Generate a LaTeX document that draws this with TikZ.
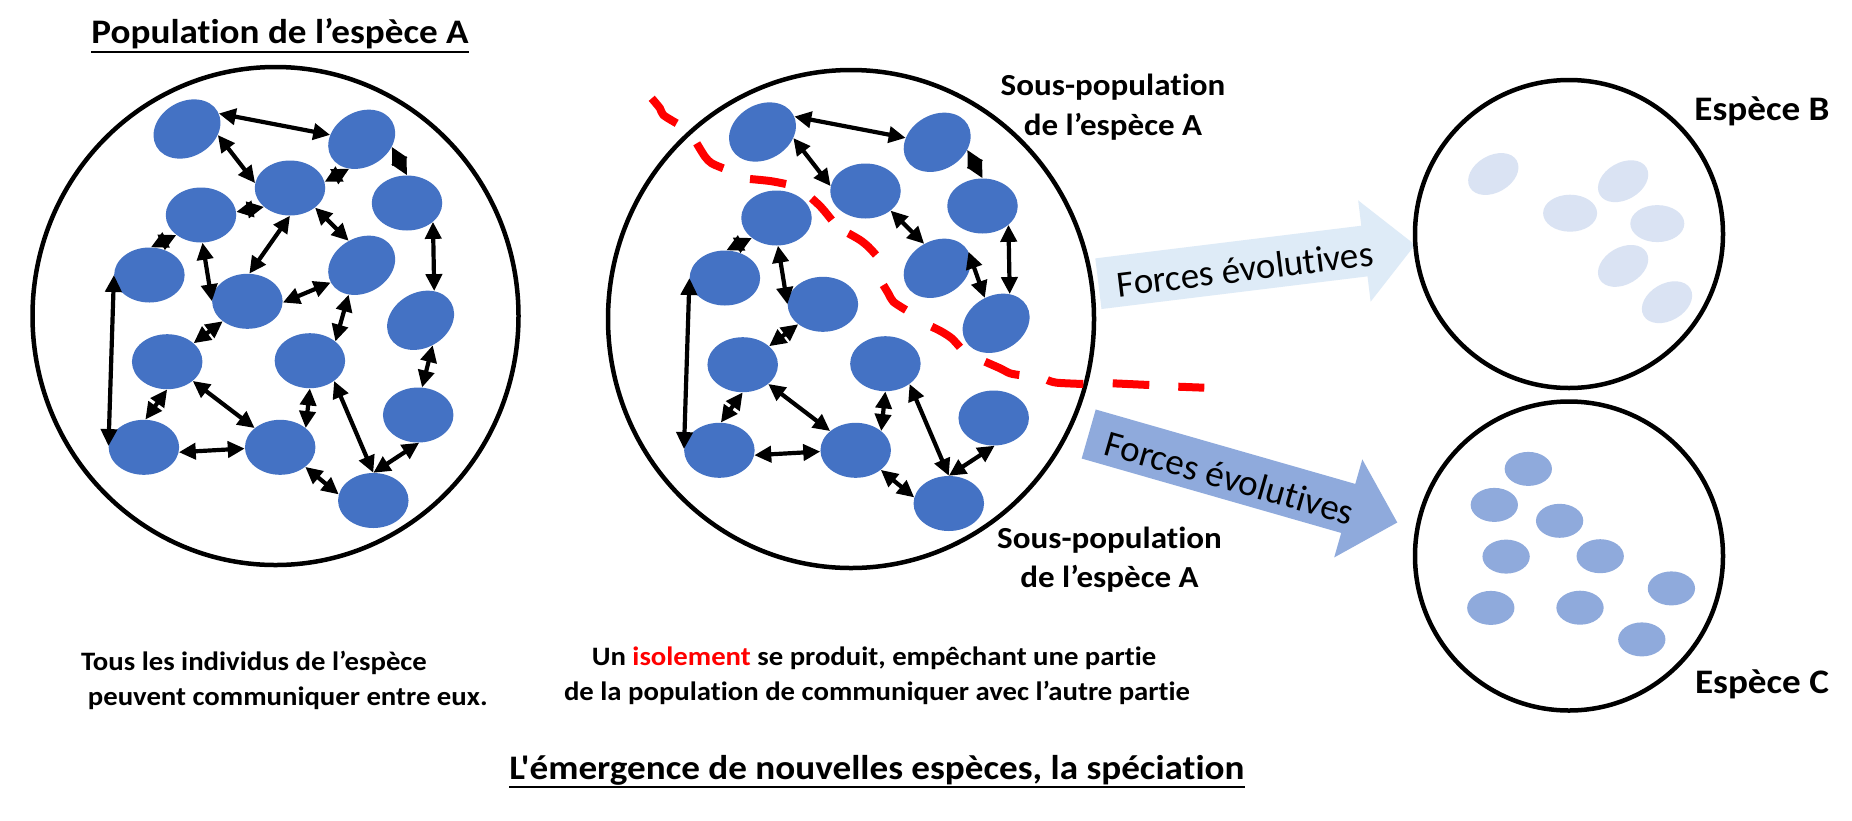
\documentclass[tikz,border=0pt]{standalone}
\usepackage{fontspec}
\setmainfont{Carlito}[Ligatures={TeXOff,CommonOff}, BoldFeatures={FakeStretch=1.08}]
\usetikzlibrary{arrows.meta,shapes.geometric}
\definecolor{blobblue}{HTML}{4472C4}
\definecolor{lightdot}{HTML}{DAE3F3}
\definecolor{arrowlight}{HTML}{DEEBF7}
\definecolor{middot}{HTML}{8FAADC}
\definecolor{isored}{HTML}{FF0000}

\newcommand{\popnodes}[1]{%
  \node[blob,rotate=30] (#1A) at (187,129) {};
  \node[blob,rotate=30] (#1B) at (361.7,139.3) {};
  \node[blob] (#1C) at (290,188) {};
  \node[blob] (#1D) at (201,215) {};
  \node[blob] (#1E) at (407,203) {};
  \node[blob] (#1F) at (149.4,275) {};
  \node[blob,rotate=30] (#1G) at (361.7,265.3) {};
  \node[blob] (#1H) at (247.4,301.3) {};
  \node[blob,rotate=30] (#1I) at (420.6,320.3) {};
  \node[blob] (#1J) at (167.2,361.7) {};
  \node[blob] (#1K) at (309.9,360.7) {};
  \node[blob] (#1L) at (418.2,415) {};
  \node[blob] (#1M) at (143.9,447.3) {};
  \node[blob] (#1N) at (280.2,447.3) {};
  \node[blob] (#1O) at (373.3,500.5) {};
  \node[ring, minimum width=486, minimum height=498] (#1ring) at (275.5,316) {};
}

\begin{document}
\begin{tikzpicture}[x=1pt,y=-1pt,
  blob/.style={ellipse, fill=blobblue, draw=none, inner sep=0, minimum width=70.5, minimum height=55},
  ring/.style={ellipse, draw=black, line width=4.5, inner sep=0},
  lnk/.style={line width=4.2, {Triangle[length=17pt,width=16pt]}-{Triangle[length=17pt,width=16pt]}},
  bdot/.style={ellipse, fill=lightdot, draw=none, inner sep=0, minimum width=54, minimum height=37},
  cdot/.style={ellipse, fill=middot, draw=none, inner sep=0, minimum width=47.3, minimum height=34},
  redline/.style={draw=isored, line width=8, line cap=butt, line join=round},
  bigtxt/.style={inner sep=0, font=\bfseries\fontsize{34.4}{41}\selectfont},
  subtxt/.style={inner sep=0, font=\bfseries\fontsize{30.6}{38}\selectfont},
  smalltxt/.style={inner sep=0, font=\bfseries\fontsize{26.6}{34}\selectfont},
  forcetxt/.style={inner sep=0, font=\fontsize{37}{44}\selectfont, transform shape},
]
\path[fill=white] (0,0) rectangle (1852,820);

% population A
\popnodes{p}
\foreach \s/\a/\t/\b in {A/-4/B/142, A/-41/C/172, B/-44/E/90, B/-143/C/10, C/-144/D/5,
  D/-141/F/87, C/-90/H/86, C/-38/G/88, D/-87/H/180, E/-36/I/35, G/179/H/-2,
  G/-144/K/37, H/-141/J/35, I/-94/L/82, F/180/M/178, J/-90/M/87, J/-37/N/143,
  K/-90/N/37, K/-40/O/90, L/-88/O/90, M/-8/N/182, N/-38/O/170}
  \draw[lnk] (p\s.\a) -- (p\t.\b);

% isolated population
\begin{scope}[shift={(575.5,3)}]
\popnodes{q}
\end{scope}
\foreach \s/\a/\t/\b in {A/-4/B/142, A/-41/C/172, B/-44/E/90, C/-38/G/88,
  D/-141/F/87, D/-87/H/180, E/-36/I/35, G/-2/I/84, H/-141/J/35, F/180/M/178,
  J/-90/M/87, J/-37/N/143, K/-90/N/37, K/-40/O/90, L/-88/O/90, M/-8/N/182, N/-38/O/170}
  \draw[lnk] (q\s.\a) -- (q\t.\b);

% red dashed barrier
\draw[redline] plot[smooth] coordinates {(651.7,98.3) (660,108.3) (663.3,115) (676.7,123.3)};
\draw[redline] plot[smooth] coordinates {(696.7,143.3) (705,156.7) (711.7,163.3) (723.3,168.3)};
\draw[redline] plot[smooth] coordinates {(750,179) (770,181) (786,184)};
\draw[redline] plot[smooth] coordinates {(811.7,198.3) (820,206) (825,211.7) (831.7,220)};
\draw[redline] plot[smooth] coordinates {(848.3,233.3) (860,240) (868.3,246.7) (876,255)};
\draw[redline] plot[smooth] coordinates {(883.3,285) (888.3,293.3) (893.3,301.7) (906,310)};
\draw[redline] plot[smooth] coordinates {(931.7,326.7) (941.7,331.7) (951.7,338.3) (960,347.3)};
\draw[redline] plot[smooth] coordinates {(985,361.7) (1000,368.3) (1010,373.3) (1019.3,375)};
\draw[redline] plot[smooth] coordinates {(1047.3,380) (1056.7,382.7) (1083.3,384)};
\draw[redline] (1112.7,383.3) -- (1149.3,385);
\draw[redline] (1178.3,386.7) -- (1204.3,387.7);

% evolutionary forces arrows
\begin{scope}[shift={(1098.4,283.7)}, rotate=7]
  \fill[arrowlight] (0,-25.5) -- (268,-25.5) -- (268,-51) -- (319,0) -- (268,51) -- (268,25.5) -- (0,25.5) -- cycle;
  \node[forcetxt] (f1) at (147.5,3) {Forces évolutives};
\end{scope}
\begin{scope}[shift={(1088.7,434)}, rotate=-16]
  \fill[middot] (0,-25.5) -- (270,-25.5) -- (270,-51) -- (321,0) -- (270,51) -- (270,25.5) -- (0,25.5) -- cycle;
  \node[forcetxt] (f2) at (147.5,3) {Forces évolutives};
\end{scope}

% species B
\node[ring, minimum width=308, minimum height=308] (ringB) at (1569,234) {};
\node[bdot,rotate=30] (b1) at (1493.3,174) {};
\node[bdot,rotate=30] (b2) at (1623.1,181.2) {};
\node[bdot] (b3) at (1570.1,213.2) {};
\node[bdot] (b4) at (1657.3,223.6) {};
\node[bdot,rotate=30] (b5) at (1623.1,265.9) {};
\node[bdot,rotate=30] (b6) at (1667,302.2) {};

% species C
\node[ring, minimum width=308, minimum height=309] (ringC) at (1569,556) {};
\node[cdot] (c1) at (1528.3,468.9) {};
\node[cdot] (c2) at (1494.3,504.9) {};
\node[cdot] (c3) at (1559.6,520.8) {};
\node[cdot] (c4) at (1506.1,556.6) {};
\node[cdot] (c5) at (1600.2,556.2) {};
\node[cdot] (c6) at (1671.4,588.4) {};
\node[cdot] (c7) at (1490.8,607.9) {};
\node[cdot] (c8) at (1580,607.7) {};
\node[cdot] (c9) at (1641.8,639.4) {};

% texts
\node[bigtxt, anchor=base] (title) at (280,43.3) {Population de l’espèce A};
\draw[line width=2] ([yshift=-8.4pt]title.base west) -- ([yshift=-8.4pt]title.base east);

\node[subtxt, anchor=base] (spa1) at (1113,95) {Sous-population};
\node[subtxt, anchor=base] (spa2) at (1113,135) {de l’espèce A};
\node[subtxt, anchor=base] (spb1) at (1109.5,548) {Sous-population};
\node[subtxt, anchor=base] (spb2) at (1109.5,587) {de l’espèce A};

\node[bigtxt, anchor=base] (eb) at (1762,120) {Espèce B};
\node[bigtxt, anchor=base] (ec) at (1762,693.5) {Espèce C};

\node[smalltxt, anchor=base west] (tl1) at (81,670) {Tous les individus de l’espèce};
\node[smalltxt, anchor=base west] (tl2) at (87.7,705) {peuvent communiquer entre eux.};

\node[smalltxt, anchor=base] (is1) at (874,665) {Un \textcolor{isored}{isolement} se produit, empêchant une partie};
\node[smalltxt, anchor=base] (is2) at (877,700) {de la population de communiquer avec l’autre partie};

\node[bigtxt, anchor=base] (bt) at (877,779) {L'émergence de nouvelles espèces, la spéciation};
\draw[line width=2] ([yshift=-8.4pt]bt.base west) -- ([yshift=-8.4pt]bt.base east);
\end{tikzpicture}
\end{document}
